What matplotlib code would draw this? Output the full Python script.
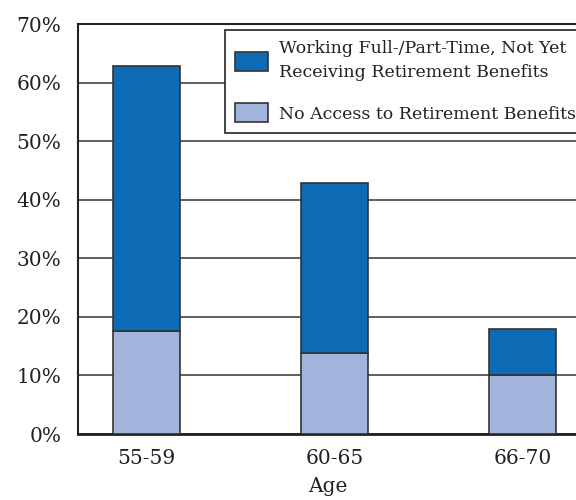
import matplotlib
matplotlib.use("Agg")
import matplotlib.pyplot as plt
from matplotlib.ticker import MultipleLocator, PercentFormatter

# Data (percent of group)
ages = ["55-59", "60-65", "66-70"]
no_access = [17.6, 13.9, 10.1]
working = [45.2, 29.0, 7.8]   # stacked on top of no_access

plt.rcParams['font.family'] = ['DejaVu Serif']

fig = plt.figure(figsize=(5.76, 5.0), dpi=100)
ax = fig.add_axes([78 / 576, 1 - 434 / 500, 1.002 - 78 / 576, (434 - 24) / 500])

x = list(range(len(ages)))
width = 0.357
edge = '#333333'
ax.bar(x, no_access, width, color='#a2b4db', edgecolor=edge, linewidth=1.2,
       label='No Access to Retirement Benefits', zorder=3)
ax.bar(x, working, width, bottom=no_access, color='#0d6bb5', edgecolor=edge,
       linewidth=1.2, label='Working Full-/Part-Time, Not Yet\nReceiving Retirement Benefits',
       zorder=3)

ax.set_ylim(0, 70)
ax.set_xlim(-0.362, 2.29)
ax.yaxis.set_major_locator(MultipleLocator(10))
ax.yaxis.set_major_formatter(PercentFormatter(decimals=0))
ax.set_xticks(x)
ax.set_xticklabels(ages)
ax.grid(axis='y', color='#444444', linewidth=1.2, zorder=0)
ax.tick_params(axis='both', length=0, labelsize=14.5, colors='#222222')
ax.tick_params(axis='x', pad=11)
ax.tick_params(axis='y', pad=12)
ax.set_xlabel('Age', fontsize=14.5, color='#222222', labelpad=6)

for side in ['top', 'left', 'bottom']:
    ax.spines[side].set_color('#222222')
    ax.spines[side].set_linewidth(1.5)
ax.spines['bottom'].set_linewidth(2)
ax.spines['right'].set_visible(False)

handles, labels = ax.get_legend_handles_labels()
leg = ax.legend(handles[::-1], labels[::-1], loc='upper left',
                bbox_to_anchor=((225 - 78) / (576 * 1.002 - 78), 1 - 6 / 410),
                fontsize=12.5, frameon=True, fancybox=False, framealpha=1,
                edgecolor='#222222', handlelength=1.85, handleheight=1.3,
                borderpad=0.6, labelspacing=1.3, handletextpad=0.65,
                borderaxespad=0)
leg.get_frame().set_linewidth(1.2)
for t in leg.get_texts():
    t.set_color('#222222')
    t.set_linespacing(1.5)

fig.savefig('out.png', dpi=100)
